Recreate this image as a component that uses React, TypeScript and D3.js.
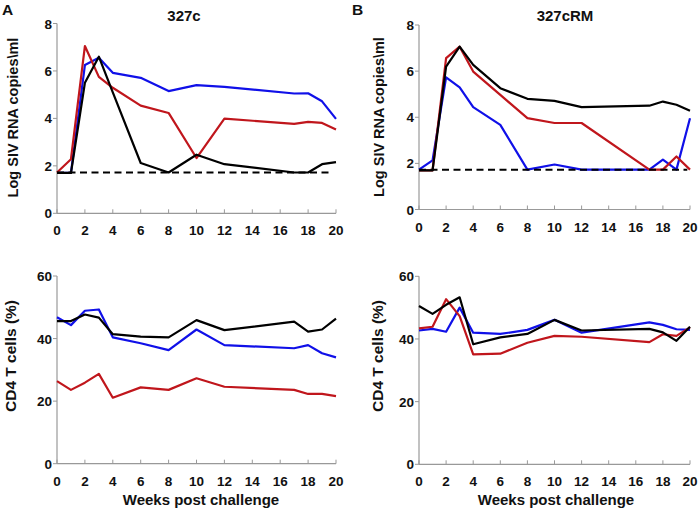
import React from "react";
import * as d3 from "d3";

const weeks = [0, 1, 2, 3, 4, 6, 8, 10, 12, 17, 18, 19, 20];
const xTicks = [0, 2, 4, 6, 8, 10, 12, 14, 16, 18, 20];
const vlTicks = [0, 2, 4, 6, 8];
const cdTicks = [0, 20, 40, 60];
const detectionLimit = 1.72;

// 327c viral load
const vlA_blue = [1.7, 1.7, 6.25, 6.56, 5.92, 5.71, 5.15, 5.4, 5.33, 5.05, 5.06, 4.72, 3.98];
const vlA_red = [1.72, 2.28, 7.05, 5.75, 5.29, 4.54, 4.23, 2.33, 3.99, 3.77, 3.85, 3.81, 3.53];
const vlA_black = [1.7, 1.7, 5.5, 6.6, 5.1, 2.12, 1.72, 2.47, 2.07, 1.72, 1.72, 2.07, 2.16];
// 327cRM viral load
const vlB_blue = [1.73, 2.13, 5.73, 5.3, 4.44, 3.67, 1.73, 1.95, 1.73, 1.73, 2.16, 1.73, 3.96];
const vlB_red = [1.7, 1.7, 6.56, 7.06, 5.98, 4.97, 3.96, 3.75, 3.75, 1.73, 1.73, 2.3, 1.73];
const vlB_black = [1.7, 1.7, 6.2, 7.06, 6.27, 5.26, 4.8, 4.71, 4.44, 4.5, 4.68, 4.54, 4.28];
// 327c CD4
const cdA_blue = [46.8, 44.3, 48.9, 49.3, 40.4, 38.5, 36.3, 42.9, 37.9, 36.9, 37.9, 35.3, 34.0];
const cdA_red = [26.4, 23.6, 25.9, 28.7, 21.1, 24.4, 23.6, 27.3, 24.6, 23.6, 22.3, 22.3, 21.6];
const cdA_black = [45.6, 45.6, 47.7, 46.7, 41.4, 40.6, 40.4, 45.9, 42.7, 45.4, 42.2, 42.9, 46.4];
// 327cRM CD4
const cdB_blue = [42.7, 43.2, 42.3, 50.0, 42.0, 41.6, 42.9, 46.1, 42.0, 45.3, 44.5, 43.1, 42.9];
const cdB_red = [43.4, 43.9, 52.7, 47.3, 35.1, 35.3, 38.8, 41.0, 40.7, 39.0, 41.5, 41.0, 43.7];
const cdB_black = [50.5, 48.0, 50.9, 53.3, 38.3, 40.5, 41.6, 46.1, 42.7, 43.2, 42.1, 39.4, 43.9];

const BLUE = "#1010e8";
const RED = "#c0161c";
const BLACK = "#000000";
const AXIS = "#999999";
const FONT = "'Liberation Sans', Arial, Helvetica, sans-serif";

type PanelProps = {
  x0: number; x1: number; y0: number; y1: number;
  yMax: number; yTicks: number[];
  series: { values: number[]; color: string }[];
  dashed?: { from: number; to: number; value: number };
  yLabel: string; yLabelX: number; yLabelY: number; yLabelSize: number;
  xLabel?: string; xLabelX?: number;
};

function Panel(p: PanelProps) {
  const xs = d3.scaleLinear().domain([0, 20]).range([p.x0, p.x1]);
  const ys = d3.scaleLinear().domain([0, p.yMax]).range([p.y0, p.y1]);
  const line = d3.line<number>().x((_, i) => xs(weeks[i])).y((v) => ys(v));
  return (
    <g>
      <line x1={p.x0} x2={p.x0} y1={p.y0} y2={p.y1} stroke={AXIS} strokeWidth={1.2} />
      <line x1={p.x0} x2={p.x1} y1={p.y0} y2={p.y0} stroke={AXIS} strokeWidth={1.2} />
      {xTicks.map((t) => (
        <g key={"x" + t}>
          <line x1={xs(t)} x2={xs(t)} y1={p.y0} y2={p.y0 - 4} stroke={AXIS} strokeWidth={1} />
          <text x={xs(t)} y={p.y0 + 22} textAnchor="middle" fontFamily={FONT} fontWeight="bold" fontSize={13.5} fill="#111">{t}</text>
        </g>
      ))}
      {p.yTicks.map((t) => (
        <g key={"y" + t}>
          <line x1={p.x0} x2={p.x0 - 4} y1={ys(t)} y2={ys(t)} stroke={AXIS} strokeWidth={1} />
          <text x={p.x0 - 5} y={ys(t) + 5} textAnchor="end" fontFamily={FONT} fontWeight="bold" fontSize={13.5} fill="#111">{t}</text>
        </g>
      ))}
      {p.series.map((s, i) => (
        <path key={i} d={line(s.values) || ""} fill="none" stroke={s.color} strokeWidth={2.2} strokeLinejoin="round" />
      ))}
      {p.dashed && (
        <line x1={xs(p.dashed.from)} x2={xs(p.dashed.to)} y1={ys(p.dashed.value)} y2={ys(p.dashed.value)}
          stroke={BLACK} strokeWidth={2} strokeDasharray="7,4.5" />
      )}
      <text transform={`translate(${p.yLabelX},${p.yLabelY}) rotate(-90)`} textAnchor="middle"
        fontFamily={FONT} fontWeight="bold" fontSize={p.yLabelSize} fill="#111">{p.yLabel}</text>
      {p.xLabel && (
        <text x={p.xLabelX} y={505} textAnchor="middle" fontFamily={FONT} fontWeight="bold" fontSize={15} fill="#111">{p.xLabel}</text>
      )}
    </g>
  );
}

export default function App() {
  return (
    <svg width={700} height={509} style={{ position: "absolute", left: 0, top: 0, background: "#fff" }}>
      <rect width={700} height={509} fill="#fff" />
      <text x={2} y={15} fontFamily={FONT} fontWeight="bold" fontSize={15.5} fill="#111">A</text>
      <text x={352} y={15} fontFamily={FONT} fontWeight="bold" fontSize={15.5} fill="#111">B</text>
      <text x={184} y={21} textAnchor="middle" fontFamily={FONT} fontWeight="bold" fontSize={15} fill="#111">327c</text>
      <text x={565} y={21} textAnchor="middle" fontFamily={FONT} fontWeight="bold" fontSize={15} fill="#111">327cRM</text>

      <Panel x0={57} x1={336} y0={213.3} y1={23.5} yMax={8} yTicks={vlTicks}
        series={[{ values: vlA_blue, color: BLUE }, { values: vlA_red, color: RED }, { values: vlA_black, color: BLACK }]}
        dashed={{ from: 0, to: 19.6, value: detectionLimit }}
        yLabel="Log SIV RNA copies\ml" yLabelX={18} yLabelY={117.5} yLabelSize={14.5} />
      <Panel x0={419} x1={690} y0={209.5} y1={25} yMax={8} yTicks={vlTicks}
        series={[{ values: vlB_blue, color: BLUE }, { values: vlB_red, color: RED }, { values: vlB_black, color: BLACK }]}
        dashed={{ from: 0, to: 19.8, value: detectionLimit }}
        yLabel="Log SIV RNA copies\ml" yLabelX={384} yLabelY={117} yLabelSize={14.5} />
      <Panel x0={57} x1={336} y0={463.7} y1={276} yMax={60} yTicks={cdTicks}
        series={[{ values: cdA_blue, color: BLUE }, { values: cdA_red, color: RED }, { values: cdA_black, color: BLACK }]}
        yLabel="CD4 T cells (%)" yLabelX={16} yLabelY={356} yLabelSize={15.5}
        xLabel="Weeks post challenge" xLabelX={201} />
      <Panel x0={419} x1={690} y0={464.3} y1={276.3} yMax={60} yTicks={cdTicks}
        series={[{ values: cdB_blue, color: BLUE }, { values: cdB_red, color: RED }, { values: cdB_black, color: BLACK }]}
        yLabel="CD4 T cells (%)" yLabelX={383} yLabelY={356} yLabelSize={15.5}
        xLabel="Weeks post challenge" xLabelX={556} />
    </svg>
  );
}
